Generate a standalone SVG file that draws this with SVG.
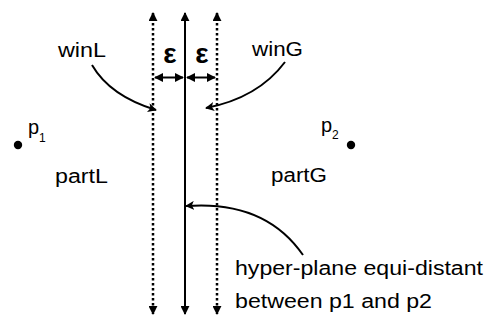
<svg xmlns="http://www.w3.org/2000/svg" width="484" height="326" viewBox="0 0 484 326">
<style>
text{font-family:"Liberation Sans",Arial,Helvetica,sans-serif;fill:#000;font-size:20px}
.eps{font-weight:bold;font-size:28px}
.sub{font-size:12px}
.v{stroke:#000;stroke-width:2;fill:none}
.dot{stroke-width:2.5;stroke-dasharray:2.5 2.5}
.c{stroke:#000;stroke-width:2;fill:none}
</style>
<defs>
<marker id="ah2" viewBox="0 0 10 10" refX="9" refY="5" markerWidth="9" markerHeight="9" orient="auto-start-reverse" markerUnits="userSpaceOnUse">
<path d="M0,0 L10,5 L0,10 L2.5,5 Z" fill="#000"/>
</marker>
<marker id="ah3" viewBox="0 0 10 10" refX="9" refY="5" markerWidth="9" markerHeight="9" orient="auto-start-reverse" markerUnits="userSpaceOnUse">
<path d="M0,0 L10,5 L0,10 Z" fill="#000"/>
</marker>
</defs>
<g id="connectors">
<line class="v dot" x1="153" y1="13" x2="153" y2="314" marker-start="url(#ah3)" marker-end="url(#ah3)"/>
<line class="v" x1="185" y1="13" x2="185" y2="314" marker-start="url(#ah3)" marker-end="url(#ah3)"/>
<line class="v dot" x1="217" y1="13" x2="217" y2="314" marker-start="url(#ah3)" marker-end="url(#ah3)"/>
<line class="c" x1="155" y1="77.5" x2="183" y2="77.5" marker-start="url(#ah3)" marker-end="url(#ah3)"/>
<line class="c" x1="187" y1="77.5" x2="215" y2="77.5" marker-start="url(#ah3)" marker-end="url(#ah3)"/>
<path class="c" d="M92,65 Q110,96 156,110" marker-end="url(#ah2)"/>
<path class="c" d="M285,62 Q258,98 206,108" marker-end="url(#ah2)"/>
<path class="c" d="M303,255 Q265,200 186,206" marker-end="url(#ah2)"/>
</g>
<g id="eps-left"><text class="eps" x="170" y="63" text-anchor="middle">ε</text></g>
<g id="eps-right"><text class="eps" x="202" y="63" text-anchor="middle">ε</text></g>
<g id="winL"><text x="58" y="57" textLength="48" lengthAdjust="spacingAndGlyphs">winL</text></g>
<g id="winG"><text x="252" y="56" textLength="51" lengthAdjust="spacingAndGlyphs">winG</text></g>
<g id="p1">
<circle cx="18" cy="145" r="4.2"/>
<text x="28" y="134">p</text><text class="sub" x="39" y="142">1</text>
</g>
<g id="p2">
<circle cx="351" cy="145" r="4.2"/>
<text x="321" y="132">p</text><text class="sub" x="332" y="139">2</text>
</g>
<g id="partL"><text x="55" y="183" textLength="53" lengthAdjust="spacingAndGlyphs">partL</text></g>
<g id="partG"><text x="271" y="182" textLength="56" lengthAdjust="spacingAndGlyphs">partG</text></g>
<g id="hyperplane">
<text x="235" y="275" textLength="248" lengthAdjust="spacingAndGlyphs">hyper-plane equi-distant</text>
<text x="235" y="308" textLength="197" lengthAdjust="spacingAndGlyphs">between p1 and p2</text>
</g>
</svg>
